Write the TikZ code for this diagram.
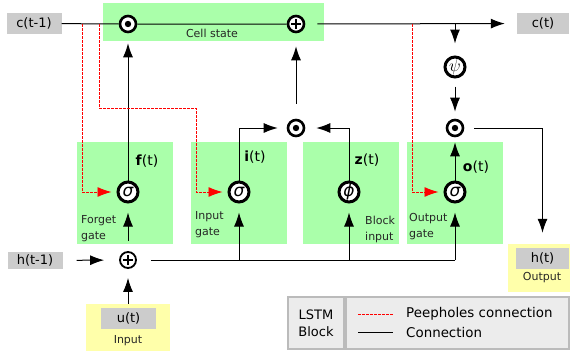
\documentclass[tikz,border=0pt]{standalone}
\usepackage{fontspec}
\setmainfont{DejaVu Sans}
\usetikzlibrary{arrows.meta}
\definecolor{gategreen}{HTML}{AAFFAA}
\definecolor{ioyellow}{HTML}{FFFFAA}
\definecolor{tagGray}{HTML}{CCCCCC}
\definecolor{legGray}{HTML}{ECECEC}
\definecolor{legEdge}{HTML}{BBBBBB}
\tikzset{
  tag/.style={fill=tagGray, minimum width=55pt, minimum height=21pt, inner sep=0pt, font=\fontsize{13}{15}\selectfont},
  mulnode/.style={circle, draw=black, fill=white, line width=2.6pt, minimum size=16pt, inner sep=0pt,
    path picture={\fill[black] (path picture bounding box.center) circle (3.2pt);}},
  addnode/.style={circle, draw=black, fill=white, line width=2.6pt, minimum size=16pt, inner sep=0pt,
    path picture={\draw[black, line width=1.8pt] ([xshift=-5pt]path picture bounding box.center) -- ([xshift=5pt]path picture bounding box.center)
      ([yshift=-5pt]path picture bounding box.center) -- ([yshift=5pt]path picture bounding box.center);}},
  actnode/.style={circle, draw=black, fill=white, line width=3pt, minimum size=20pt, inner sep=0pt, font=\fontsize{17}{17}\selectfont\itshape},
  conn/.style={line width=1pt},
  arr/.style={conn, -{Latex[length=14pt,width=10pt]}},
  peep/.style={red, dash pattern=on 2.5pt off 1.5pt, line width=0.9pt, -{Latex[length=14pt,width=10pt]}},
  gatetext/.style={font=\fontsize{11}{16}\selectfont, text=black!85, align=left, anchor=west, inner sep=0pt},
  gatename/.style={font=\fontsize{14}{16}\selectfont, inner sep=0pt},
  legnode/.style={draw=legEdge, fill=legGray, line width=1.5pt, minimum height=52pt, inner sep=0pt, align=center, font=\fontsize{13}{17}\selectfont},
  legtext/.style={anchor=west, inner sep=0pt, font=\fontsize{13.4}{15}\selectfont}
}
\begin{document}
\begin{tikzpicture}[x=1pt,y=-1pt]
    \useasboundingbox (0,0) rectangle (570,351);
    \fill[gategreen] (103,3) rectangle (324,41);
    \foreach \gx in {77,191,303,407}
        \fill[gategreen] (\gx,142) rectangle ++(96,102);
    \node[fill=ioyellow, minimum width=84pt, minimum height=47pt, inner sep=0pt] (inbox) at (128,327.5) {};
    \node[fill=ioyellow, minimum width=62pt, minimum height=48pt, inner sep=0pt] (outbox) at (539,268) {};

    \node[tag] (cprev) at (34,23.5) {c(t-1)};
    \node[tag, minimum width=52pt] (cnext) at (543,23.5) {c(t)};
    \node[tag, minimum height=17pt] (hprev) at (35,260.5) {h(t-1)};
    \node[tag] (uin) at (128.5,318.5) {u(t)};
    \node[tag, minimum width=53pt] (hout) at (542.5,258.5) {h(t)};
    \node[font=\fontsize{11}{12}\selectfont, text=black!85] (cslabel) at (212,33) {Cell state};
    \node[gatetext, anchor=center] (inlabel) at (128,341) {Input};
    \node[gatetext, anchor=center] (outlabel) at (542,278) {Output};

    \node[mulnode] (fmul) at (128,24) {};
    \node[addnode] (cadd) at (296,24) {};
    \node[mulnode] (imul) at (296,128) {};
    \node[actnode, font=\fontsize{17}{17}\selectfont] (psi) at (455,67) {$\psi$};
    \node[mulnode] (omul) at (455,128) {};
    \node[actnode] (sigf) at (128,192) {σ};
    \node[actnode] (sigi) at (239,192) {σ};
    \node[actnode] (phiz) at (349,192) {ϕ};
    \node[actnode] (sigo) at (455,192) {σ};
    \node[addnode, line width=1.8pt] (xadd) at (128,260) {};

    \node[gatename] (flab) at (147,161) {\textbf{f}(t)};
    \node[gatename] (ilab) at (255,157) {\textbf{i}(t)};
    \node[gatename] (zlab) at (367,160) {\textbf{z}(t)};
    \node[gatename] (olab) at (476,167) {\textbf{o}(t)};
    \node[gatetext] (fname) at (81,229) {Forget\\gate};
    \node[gatetext] (iname) at (195,225) {Input\\gate};
    \node[gatetext] (zname) at (365,229) {Block\\input};
    \node[gatetext] (oname) at (409,227) {Output\\gate};

    \draw[arr, shorten <=12pt, shorten >=12pt] (cprev) -- (fmul) -- (cadd) -- (cnext);
    \draw[arr, shorten >=10pt] (sigf) -- (fmul);
    \draw[arr, shorten >=9pt] (sigi) |- (imul);
    \draw[arr, shorten >=11pt] (phiz) |- (imul);
    \draw[arr, shorten <=15pt, shorten >=13pt] (imul) -- (cadd);
    \coordinate (cpsi) at (455,24);
    \draw[arr, shorten >=12pt] (cpsi) -- (psi);
    \draw[arr, shorten <=8pt, shorten >=7pt] (psi) -- (omul);
    \draw[arr, shorten >=5pt] (sigo) -- (omul);
    \draw[arr, shorten <=10pt, shorten >=15pt] (omul) -| (hout);

    \coordinate (pfgt) at (82,24);
    \coordinate (pin) at (99,24);
    \coordinate (pinbend) at (196,108);
    \coordinate (pout) at (412,24);
    \draw[peep, shorten >=5pt] (pfgt) |- (sigf);
    \draw[peep, shorten >=5pt] (pin) |- (pinbend) |- (sigi);
    \draw[peep, shorten >=5pt] (pout) |- (sigo);

    \draw[arr, shorten <=14pt, shorten >=15pt] (hprev) -- (xadd);
    \draw[arr, shorten >=9pt] (inbox) -- (xadd);
    \draw[arr, shorten <=10pt, shorten >=9pt] (xadd) -- (sigf);
    \coordinate (bus) at (455,260);
    \draw[conn, shorten <=14pt] (xadd) -- (bus);
    \foreach \g in {sigi,phiz,sigo}
        \draw[arr, shorten >=9pt] (\g |- bus) -- (\g);

    \node[legnode, minimum width=56pt] (legname) at (316,323) {LSTM\\Block};
    \node[legnode, minimum width=223pt] (legkey) at (457.5,323) {};
    \draw[red, dash pattern=on 2.5pt off 1.5pt, line width=0.8pt] (358,314) -- (393,314);
    \draw[conn] (358,332) -- (393,332);
    \node[legtext] (legpeep) at (406,314) {Peepholes connection};
    \node[legtext] (legconn) at (406,332) {Connection};
\end{tikzpicture}
\end{document}
